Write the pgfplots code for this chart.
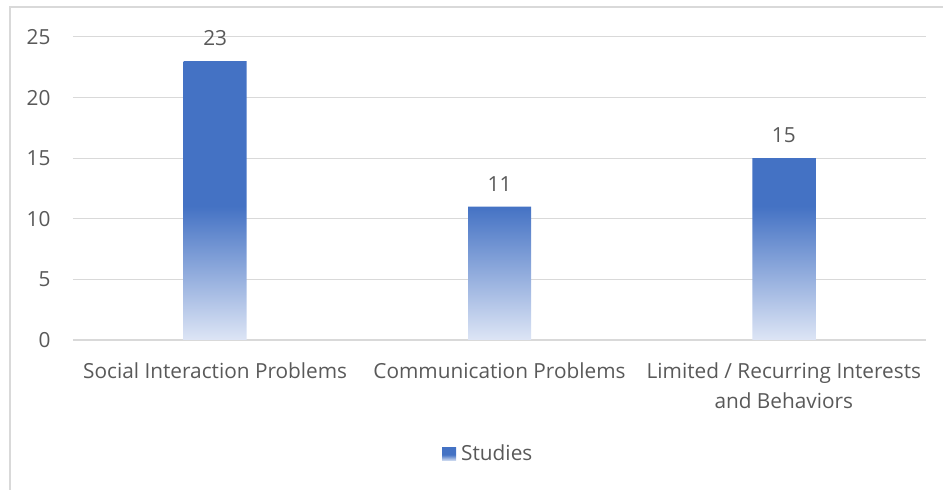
\documentclass[border=0pt]{standalone}
\usepackage{pgfplots}
\pgfplotsset{compat=1.18}
\usepackage{fontspec}
\setmainfont{Open Sans}

\definecolor{barblue}{HTML}{4472C4}
\definecolor{barlight}{HTML}{DDE5F5}
\definecolor{gridgray}{HTML}{D9D9D9}
\definecolor{framegray}{HTML}{D9D9D9}
\definecolor{textgray}{HTML}{595959}

% bar fill: pale at the base, full blue from about half the bar's height upward
\pgfdeclareverticalshading{barshade}{100bp}{%
  color(0bp)=(barlight); color(25bp)=(barlight);
  color(49bp)=(barblue); color(100bp)=(barblue)}

\newcommand\chartfont{\fontsize{20.8}{30}\selectfont}

\begin{document}
\begin{tikzpicture}[x=1pt,y=1pt]
  \useasboundingbox (0,0) rectangle (943,490);
  % chart frame (left and top edges)
  \draw[framegray, line width=1.2pt] (10,0) -- (10,483) -- (943,483);

  \begin{axis}[
    at={(73pt,150pt)}, anchor=south west,
    scale only axis,
    width=853pt, height=303pt,
    xmin=-0.5, xmax=2.5,
    ymin=0, ymax=25,
    ytick={0,5,...,25},
    xtick=data,
    xticklabels={Social Interaction Problems, Communication Problems,
                 {Limited / Recurring Interests\\and Behaviors}},
    xticklabel style={align=center, text=textgray, font=\chartfont,
                      yshift=-19pt},
    yticklabel style={text=textgray, font=\chartfont, xshift=-19pt},
    /pgf/number format/assume math mode=true,
    major tick length=0pt,
    axis line style={draw=none},
    ymajorgrids,
    grid style={gridgray, line width=1pt},
    extra y ticks={0},
    extra y tick labels={},
    extra y tick style={grid style={draw=gridgray!100!black, line width=1.5pt}},
    ybar, bar width=63pt,
    bar shift=0pt,
    nodes near coords,
    every node near coord/.append style={anchor=base, inner sep=0pt, yshift=15.5pt,
        text=textgray, font=\chartfont},
    clip=false,
  ]
    \addplot[draw=none, shading=barshade] coordinates {(0,23) (1,11) (2,15)};
  \end{axis}

  % legend
  \shade[shading=barshade, draw=none] (442,29) rectangle (456,42);
  \node[anchor=west, inner sep=0pt, text=textgray, font=\chartfont]
    at (461,37) {Studies};
\end{tikzpicture}
\end{document}
